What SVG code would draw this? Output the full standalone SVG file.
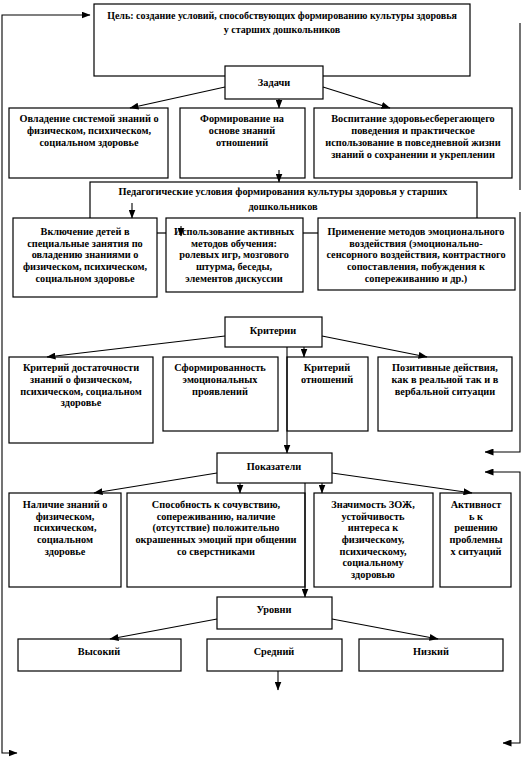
<svg xmlns="http://www.w3.org/2000/svg" width="522" height="760" viewBox="0 0 522 760">
<style>
.b{fill:#fff;stroke:#000;stroke-width:1.2}
.t{font-family:"Liberation Serif","Times New Roman",serif;font-weight:bold;font-size:10.3px;text-anchor:middle;fill:#000}
.g{font-size:10px}
.c{fill:none;stroke:#000;stroke-width:1.1}
.a{marker-end:url(#ah)}
</style>
<defs>
<marker id="ah" markerWidth="9" markerHeight="7" refX="8.5" refY="3.5" orient="auto" markerUnits="userSpaceOnUse"><path d="M0,0 L9,3.5 L0,7 z" fill="#000"/></marker>
</defs>
<rect width="522" height="760" fill="#fff"/>
<g id="goal"><rect class="b" x="94" y="4" width="376" height="72"/>
<text class="t g"><tspan x="282" y="19">Цель: создание условий, способствующих формированию культуры здоровья</tspan><tspan x="282" y="33">у старших дошкольников</tspan></text></g>
<g id="zadachi"><rect class="b" x="225" y="66" width="98" height="33"/><text class="t" x="274" y="86">Задачи</text></g>
<g id="t1"><rect class="b" x="9" y="108" width="159" height="70"/>
<text class="t"><tspan x="89" y="122">Овладение системой знаний о</tspan><tspan x="89" y="134">физическом, психическом,</tspan><tspan x="89" y="146">социальном здоровье</tspan></text></g>
<g id="t2"><rect class="b" x="180" y="108" width="125" height="70"/>
<text class="t"><tspan x="242" y="122">Формирование на</tspan><tspan x="242" y="134">основе знаний</tspan><tspan x="242" y="146">отношений</tspan></text></g>
<g id="t3"><rect class="b" x="314" y="108" width="198" height="70"/>
<text class="t"><tspan x="413" y="122">Воспитание здоровьесберегающего</tspan><tspan x="413" y="134">поведения и практическое</tspan><tspan x="413" y="146">использование в повседневной жизни</tspan><tspan x="413" y="158">знаний о сохранении и укреплении</tspan></text></g>
<g id="ped"><rect class="b" x="90" y="182" width="387" height="51"/>
<text class="t"><tspan x="283" y="195">Педагогические условия формирования культуры здоровья у старших</tspan><tspan x="283" y="210">дошкольников</tspan></text></g>
<g id="p1"><rect class="b" x="13" y="218" width="144" height="79"/>
<text class="t"><tspan x="85" y="235">Включение детей в</tspan><tspan x="85" y="247">специальные занятия по</tspan><tspan x="85" y="258">овладению знаниями о</tspan><tspan x="85" y="270">физическом, психическом,</tspan><tspan x="85" y="282">социальном здоровье</tspan></text></g>
<g id="p2"><rect class="b" x="166" y="218" width="137" height="74"/>
<text class="t"><tspan x="234" y="235">Использование активных</tspan><tspan x="234" y="247">методов обучения:</tspan><tspan x="234" y="258">ролевых игр, мозгового</tspan><tspan x="234" y="270">штурма, беседы,</tspan><tspan x="234" y="282">элементов дискуссии</tspan></text></g>
<g id="p3"><rect class="b" x="318" y="218" width="197" height="72"/>
<text class="t"><tspan x="416" y="235">Применение методов эмоционального</tspan><tspan x="416" y="247">воздействия (эмоционально-</tspan><tspan x="416" y="258">сенсорного воздействия, контрастного</tspan><tspan x="416" y="270">сопоставления, побуждения к</tspan><tspan x="416" y="282">сопереживанию и др.)</tspan></text></g>
<g id="kriterii"><rect class="b" x="225" y="317" width="97" height="30"/><text class="t" x="273" y="334">Критерии</text></g>
<g id="k1"><rect class="b" x="9" y="357" width="144" height="86"/>
<text class="t"><tspan x="81" y="371">Критерий достаточности</tspan><tspan x="81" y="383">знаний о физическом,</tspan><tspan x="81" y="395">психическом, социальном</tspan><tspan x="81" y="406">здоровье</tspan></text></g>
<g id="k2"><rect class="b" x="163" y="357" width="115" height="74"/>
<text class="t"><tspan x="220" y="371">Сформированность</tspan><tspan x="220" y="383">эмоциональных</tspan><tspan x="220" y="395">проявлений</tspan></text></g>
<g id="k3"><rect class="b" x="287" y="357" width="81" height="74"/>
<text class="t"><tspan x="327" y="371">Критерий</tspan><tspan x="327" y="383">отношений</tspan></text></g>
<g id="k4"><rect class="b" x="378" y="357" width="134" height="74"/>
<text class="t"><tspan x="445" y="371">Позитивные действия,</tspan><tspan x="445" y="383">как в реальной так и в</tspan><tspan x="445" y="395">вербальной ситуации</tspan></text></g>
<g id="pokazateli"><rect class="b" x="217" y="453" width="115" height="30"/><text class="t" x="274" y="470">Показатели</text></g>
<g id="s1"><rect class="b" x="9" y="493" width="112" height="94"/>
<text class="t"><tspan x="65" y="508">Наличие знаний о</tspan><tspan x="65" y="520">физическом,</tspan><tspan x="65" y="531">психическом,</tspan><tspan x="65" y="543">социальном</tspan><tspan x="65" y="555">здоровье</tspan></text></g>
<g id="s2"><rect class="b" x="127" y="493" width="178" height="94"/>
<text class="t"><tspan x="216" y="508">Способность к сочувствию,</tspan><tspan x="216" y="520">сопереживанию,  наличие</tspan><tspan x="216" y="531">(отсутствие) положительно</tspan><tspan x="216" y="543">окрашенных эмоций при общении</tspan><tspan x="216" y="555">со сверстниками</tspan></text></g>
<g id="s3"><rect class="b" x="314" y="493" width="119" height="94"/>
<text class="t"><tspan x="373" y="508">Значимость ЗОЖ,</tspan><tspan x="373" y="520">устойчивость</tspan><tspan x="373" y="531">интереса к</tspan><tspan x="373" y="543">физическому,</tspan><tspan x="373" y="555">психическому,</tspan><tspan x="373" y="566">социальному</tspan><tspan x="373" y="578">здоровью</tspan></text></g>
<g id="s4"><rect class="b" x="440" y="493" width="71" height="94"/>
<text class="t"><tspan x="476" y="508">Активност</tspan><tspan x="476" y="520">ь к</tspan><tspan x="476" y="531">решению</tspan><tspan x="476" y="543">проблемны</tspan><tspan x="476" y="555">х ситуаций</tspan></text></g>
<g id="urovni"><rect class="b" x="217" y="597" width="115" height="32"/><text class="t" x="274" y="613">Уровни</text></g>
<g id="u1"><rect class="b" x="18" y="639" width="163" height="32"/><text class="t" x="99" y="655">Высокий</text></g>
<g id="u2"><rect class="b" x="207" y="639" width="135" height="32"/><text class="t" x="274" y="655">Средний</text></g>
<g id="u3"><rect class="b" x="359" y="639" width="144" height="32"/><text class="t" x="431" y="655">Низкий</text></g>
<g id="connectors">
<path class="c a" d="M2,384 V15 H90"/>
<path class="c a" d="M2,384 V753 H17"/>
<path class="c" d="M520,23 V190"/>
<path class="c a" d="M520,212 V452 H485"/>
<path class="c a" d="M520,608 V472 H485"/>
<path class="c a" d="M520,608 V743 H503"/>
<path class="c a" d="M225,87 L130,108"/>
<path class="c a" d="M279,99 V108"/>
<path class="c a" d="M323,87 L390,108"/>
<path class="c a" d="M279,170 V182"/>
<path class="c a" d="M132,203 V218"/>
<path class="c a" d="M181,226 V236"/>
<path class="c a" d="M225,336 L47,357"/>
<path class="c a" d="M304,347 V357"/>
<path class="c a" d="M322,336 L427,357"/>
<path class="c a" d="M287,347 V453"/>
<path class="c a" d="M217,473 L94,493"/>
<path class="c a" d="M240,483 V493"/>
<path class="c a" d="M322,483 V493"/>
<path class="c a" d="M332,473 L472,493"/>
<path class="c a" d="M305,483 V597"/>
<path class="c a" d="M217,619 L110,639"/>
<path class="c a" d="M332,619 L438,639"/>
<path class="c a" d="M278,671 V690"/>
</g>
</svg>
